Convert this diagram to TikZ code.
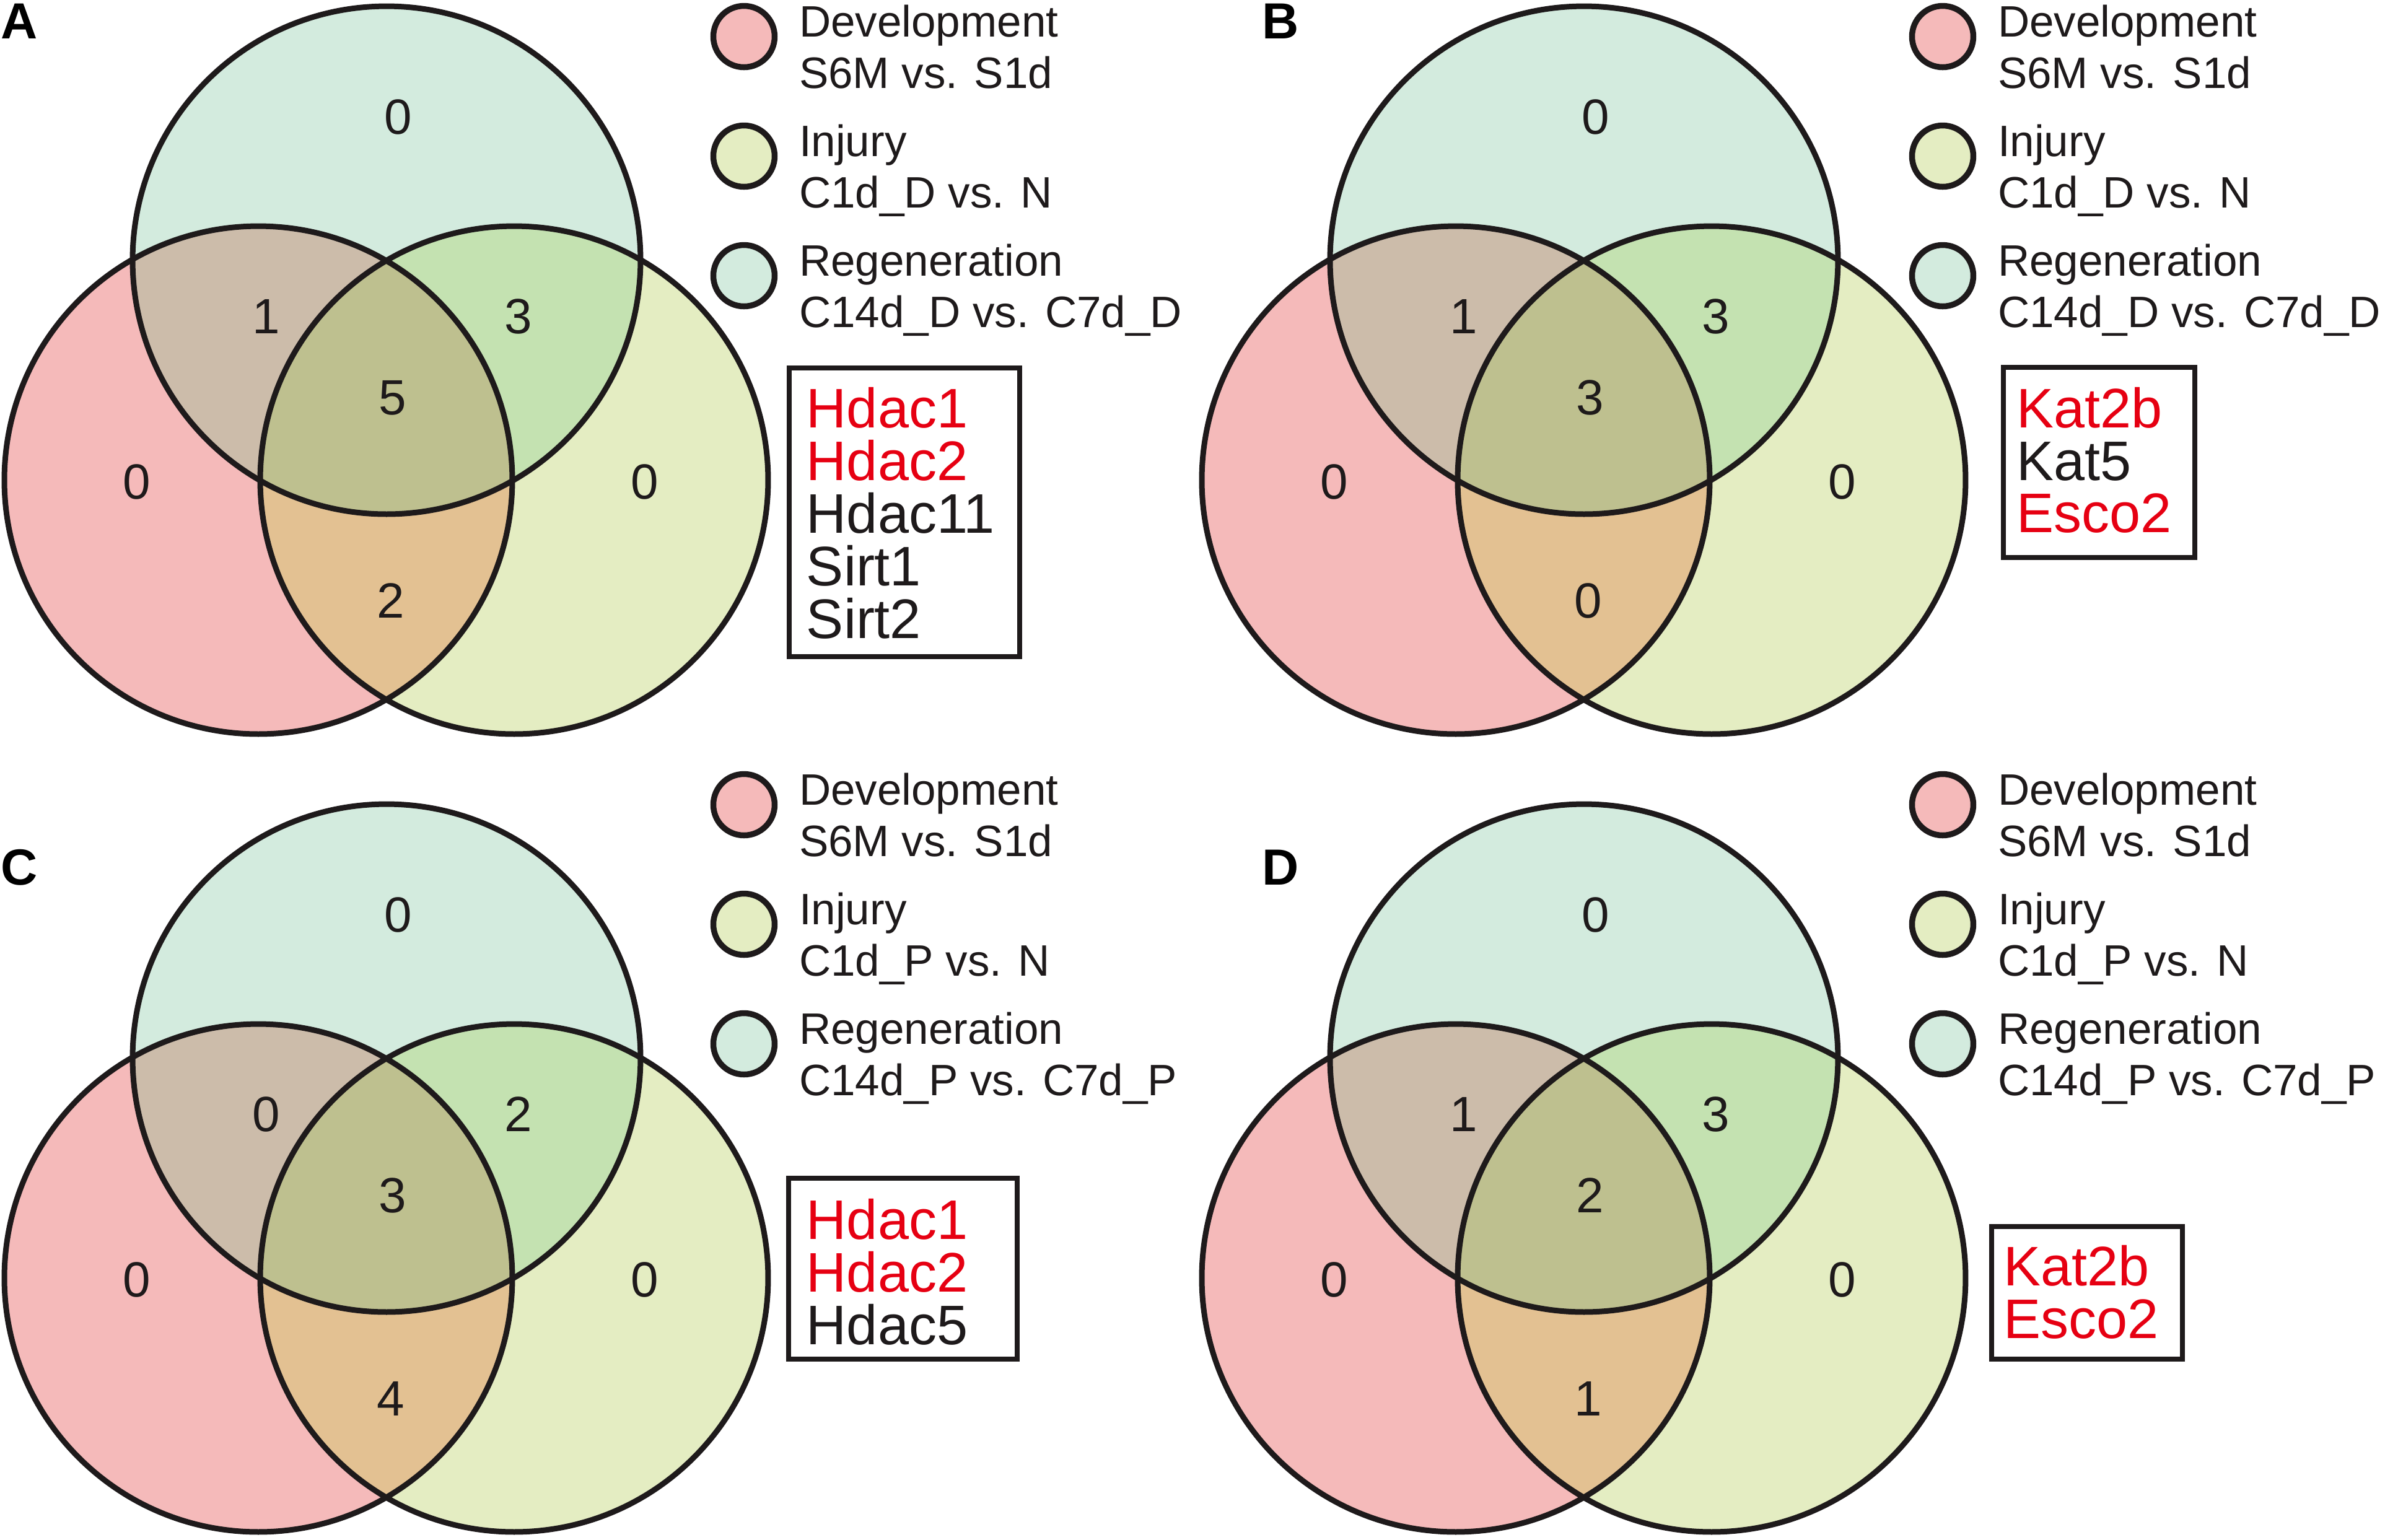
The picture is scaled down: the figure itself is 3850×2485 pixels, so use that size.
\documentclass[tikz,border=0pt]{standalone}
\usepackage{fontspec}
\setmainfont{Liberation Sans}
\definecolor{cR}{RGB}{245,186,186}
\definecolor{cY}{RGB}{228,237,194}
\definecolor{cT}{RGB}{211,235,222}
\definecolor{cRT}{RGB}{204,188,170}
\definecolor{cTY}{RGB}{196,226,177}
\definecolor{cRY}{RGB}{227,193,146}
\definecolor{cRTY}{RGB}{190,192,143}
\definecolor{txt}{RGB}{30,26,27}
\definecolor{gred}{RGB}{230,0,18}
\newcommand\vennpanel[8]{%
  \coordinate (#1-T) at (624,420);
  \coordinate (#1-L) at (417,775);
  \coordinate (#1-R) at (830,775);
  \fill[cR] (#1-L) circle[radius=41pt];
  \fill[cY] (#1-R) circle[radius=41pt];
  \fill[cT] (#1-T) circle[radius=41pt];
  \begin{scope}
    \clip (#1-L) circle[radius=41pt];
    \fill[cRT] (#1-T) circle[radius=41pt];
    \fill[cRY] (#1-R) circle[radius=41pt];
  \end{scope}
  \begin{scope}
    \clip (#1-T) circle[radius=41pt];
    \fill[cTY] (#1-R) circle[radius=41pt];
    \clip (#1-L) circle[radius=41pt];
    \fill[cRTY] (#1-R) circle[radius=41pt];
  \end{scope}
  \draw[ring] (#1-L) circle[radius=41pt];
  \draw[ring] (#1-R) circle[radius=41pt];
  \draw[ring] (#1-T) circle[radius=41pt];
  \node[num] (#1-n1) at (643,189) {#2};
  \node[num] (#1-n2) at (430,511) {#3};
  \node[num] (#1-n3) at (837,511) {#4};
  \node[num] (#1-n4) at (634,642) {#5};
  \node[num] (#1-n5) at (221,778) {#6};
  \node[num] (#1-n6) at (1041,778) {#7};
  \node[num] (#1-n7) at (631,970) {#8};
}
\newcommand\legendset[3]{%
  \node[lc, fill=cR] (#1-c1) at (1201,59) {};
  \node[lc, fill=cY] (#1-c2) at (1201,252) {};
  \node[lc, fill=cT] (#1-c3) at (1201,445) {};
  \node[lt] (#1-t1) at (1288,59) {Development};
  \node[lt] (#1-t2) at (1288,142) {S6M vs. S1d};
  \node[lt] (#1-t3) at (1288,252) {Injury};
  \node[lt] (#1-t4) at (1288,335) {#2};
  \node[lt] (#1-t5) at (1288,445) {Regeneration};
  \node[lt] (#1-t6) at (1288,528) {#3};
}
\begin{document}
\begin{tikzpicture}[x=0.1pt,y=-0.1pt,
  ring/.style={draw=txt, line width=0.9pt},
  num/.style={font=\fontsize{8}{9}\selectfont, text=txt, inner sep=0pt},
  lt/.style={font=\fontsize{7.1}{8}\selectfont, text=txt, anchor=base west, inner sep=0pt},
  gt/.style={font=\fontsize{9}{10}\selectfont, anchor=base west, inner sep=0pt},
  gred/.style={gt, text=gred},
  gblk/.style={gt, text=txt},
  lc/.style={circle, draw=txt, line width=0.95pt, minimum size=9.9pt, inner sep=0pt},
  boxline/.style={draw=txt, line width=0.8pt},
  plabel/.style={font=\bfseries\fontsize{8.2}{9}\selectfont, anchor=base west, inner sep=0pt}]
\useasboundingbox[fill=white] (0,0) rectangle (3850,2485);

% Panel A
\vennpanel{A}{0}{1}{3}{5}{0}{0}{2}
\legendset{A}{C1d\_D vs. N}{C14d\_D vs. C7d\_D}
\draw[boxline] (1274,594) rectangle (1646,1060);
\node[gred] (A-g1) at (1300,690) {Hdac1};
\node[gred] (A-g2) at (1300,775) {Hdac2};
\node[gblk] (A-g3) at (1300,860) {Hdac11};
\node[gblk] (A-g4) at (1300,945) {Sirt1};
\node[gblk] (A-g5) at (1300,1030) {Sirt2};
\node[plabel] (A-lab) at (0,62) {A};

% Panel B
\begin{scope}[shift={(1933,0)}]
\vennpanel{B}{0}{1}{3}{3}{0}{0}{0}
\end{scope}
\begin{scope}[shift={(1935,0)}]
\legendset{B}{C1d\_D vs. N}{C14d\_D vs. C7d\_D}
\end{scope}
\draw[boxline] (3234,593) rectangle (3543,900);
\node[gred] (B-g1) at (3253,690) {Kat2b};
\node[gblk] (B-g2) at (3253,775) {Kat5};
\node[gred] (B-g3) at (3253,859) {Esco2};
\node[plabel] (B-lab) at (2035,62) {B};

% Panel C
\begin{scope}[shift={(0,1288)}]
\vennpanel{C}{0}{0}{2}{3}{0}{0}{4}
\end{scope}
\begin{scope}[shift={(0,1240)}]
\legendset{C}{C1d\_P vs. N}{C14d\_P vs. C7d\_P}
\end{scope}
\draw[boxline] (1273,1902) rectangle (1642,2194);
\node[gred] (C-g1) at (1300,2000) {Hdac1};
\node[gred] (C-g2) at (1300,2085) {Hdac2};
\node[gblk] (C-g3) at (1300,2170) {Hdac5};
\node[plabel] (C-lab) at (0,1428) {C};

% Panel D
\begin{scope}[shift={(1933,1288)}]
\vennpanel{D}{0}{1}{3}{2}{0}{0}{1}
\end{scope}
\begin{scope}[shift={(1935,1240)}]
\legendset{D}{C1d\_P vs. N}{C14d\_P vs. C7d\_P}
\end{scope}
\draw[boxline] (3215,1980) rectangle (3523,2194);
\node[gred] (D-g1) at (3232,2075) {Kat2b};
\node[gred] (D-g2) at (3232,2160) {Esco2};
\node[plabel] (D-lab) at (2035,1428) {D};
\end{tikzpicture}
\end{document}
